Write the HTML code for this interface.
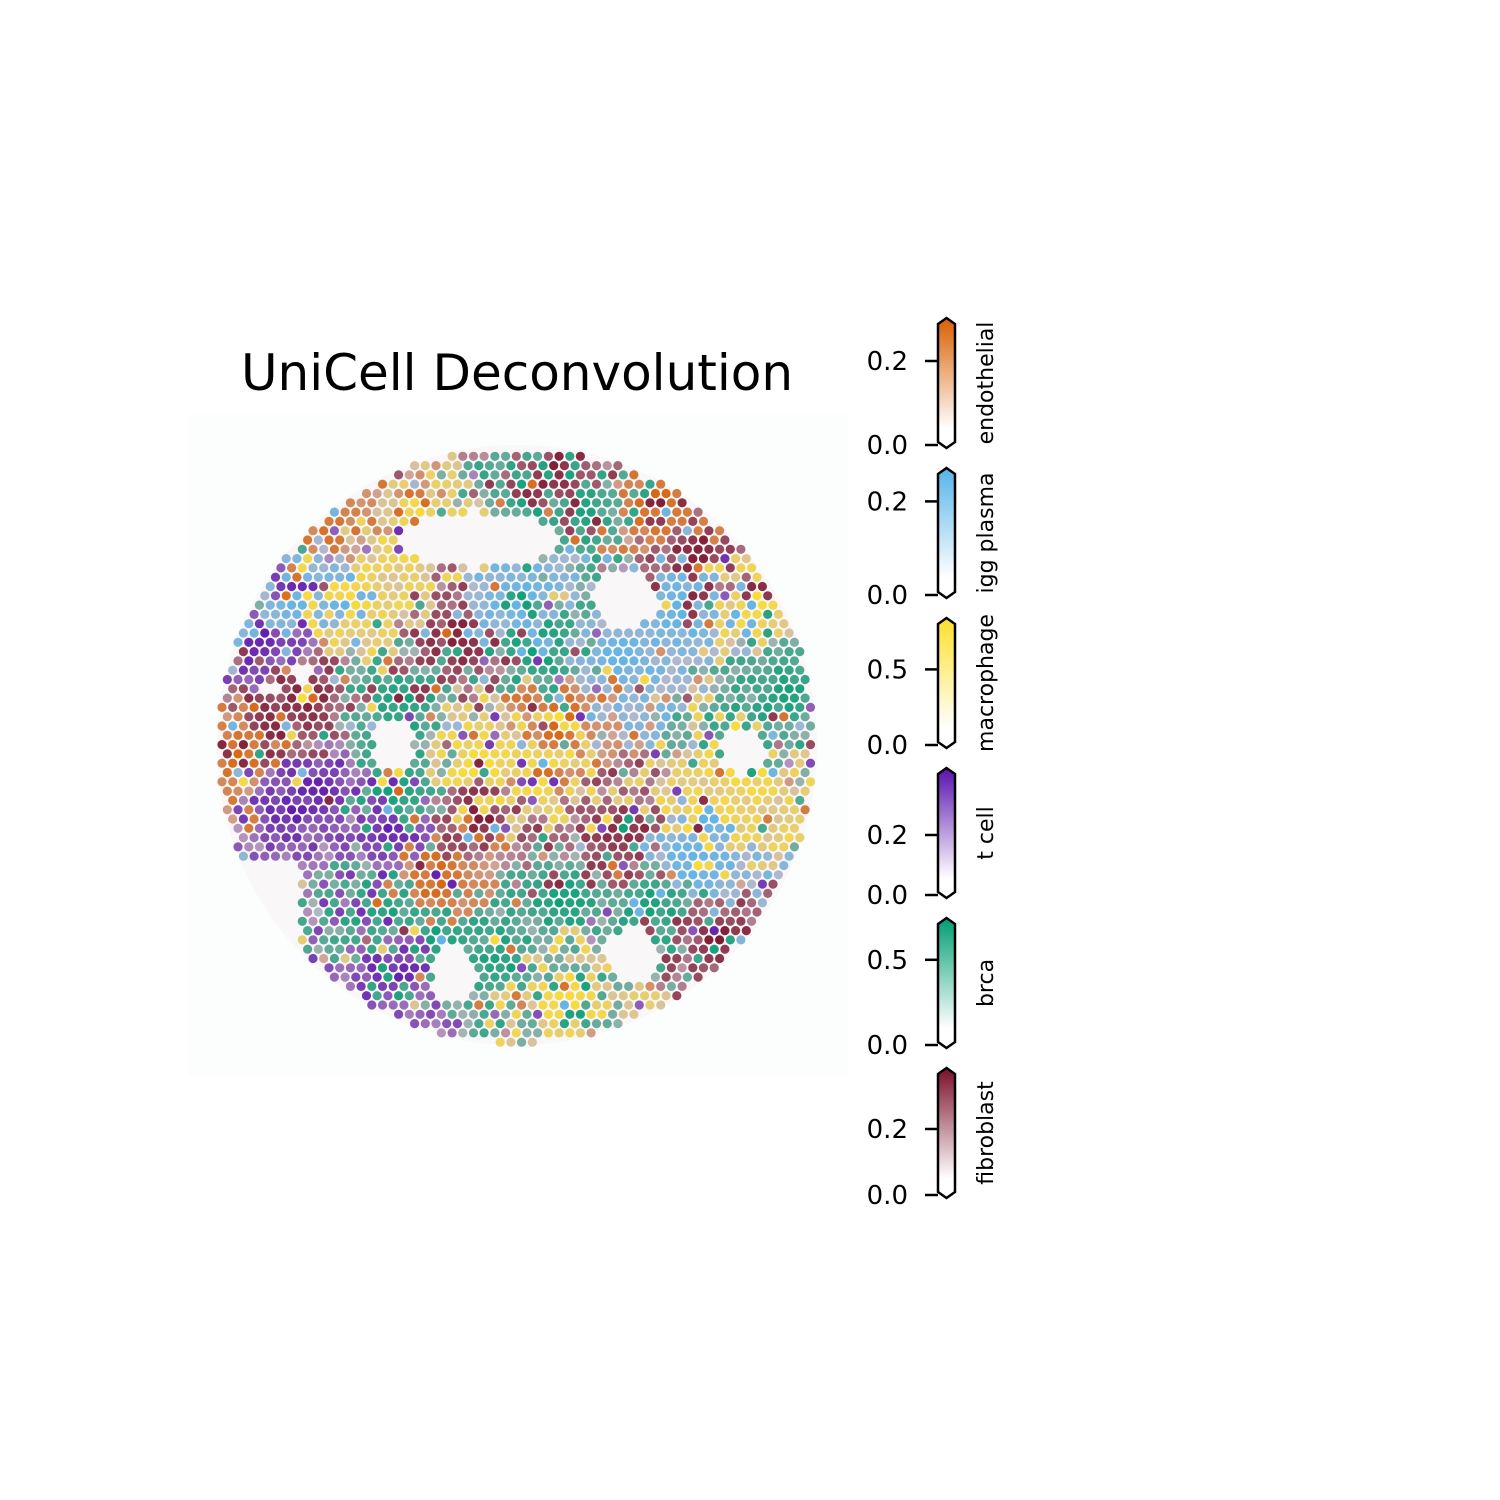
<!DOCTYPE html>
<html><head><meta charset="utf-8"><style>
body{margin:0;background:#fff;}
svg{display:block;font-family:"DejaVu Sans","Liberation Sans",sans-serif;}
</style></head><body>
<svg id="chart" width="1500" height="1500" viewBox="0 0 1500 1500" xmlns="http://www.w3.org/2000/svg">
<rect width="1500" height="1500" fill="#ffffff"/>
<text x="517" y="390" font-size="50" text-anchor="middle" fill="#000">UniCell Deconvolution</text>
<rect x="188" y="415" width="660" height="660" fill="#fcfdfd"/>
<circle cx="517" cy="745" r="300" fill="#f3ecec" opacity="0.35"/>
<g id="spots"></g>
<g id="cbars"></g>
</svg>
<script>
const cellTypes=["endothelial","igg plasma","macrophage","t cell","brca","fibroblast"];
const typeColors=["#d95f02","#56b4e9","#fde02a","#5a12ad","#009e73","#7a0f2a"];
const cbarTicks=[["0.2","0.0"],["0.2","0.0"],["0.5","0.0"],["0.2","0.0"],["0.5","0.0"],["0.2","0.0"]];
const cbarTickFrac=[[0.7,0],[0.78,0],[0.63,0],[0.5,0],[0.71,0],[0.55,0]];
// cluster centres (image coords) and dominant cell type index
const clusterX=[290,320,262,390,392, 380,560,650,790,740,540,392,440,500,580,530,400, 710,540,480,420,760,570,745,350, 300,270,700,560,480,720, 240,440,660,560, 300,680,620,520, 460,620,330,700];
const clusterY=[810,790,640,975,830, 905,900,905,690,740,650,790,940,960,510,490,700, 820,770,760,530,600,1000,770,600, 700,720,550,470,820,940, 750,880,500,720, 600,610,660,600, 640,830,500,860];
const clusterType=[3,3,3,3,3, 4,4,4,4,4,4,4,4,4,4,4,4, 2,2,2,2,2,2,2,2, 5,5,5,5,5,5, 0,0,0,0, 1,1,1,1, 5,5,0,1];
// tissue holes (no spots): centre x, centre y, radius x, radius y
const holeX=[475,625,455,632,392,742,300,270];
const holeY=[540,598,975,955,745,752,672,690];
const holeRX=[80,32,22,28,20,22,10,8];
const holeRY=[28,30,30,26,28,22,10,8];
const NS="http://www.w3.org/2000/svg";
function hash(i,j){let h=(i*73856093)^(j*19349663);h=(h^(h>>>13))*1274126177;h=h^(h>>>16);return ((h>>>0)%1000)/1000;}
function mix(c,t){const r=parseInt(c.slice(1,3),16),g=parseInt(c.slice(3,5),16),b=parseInt(c.slice(5,7),16);
const m=[205,185,195];return `rgb(${Math.round(r+(m[0]-r)*t)},${Math.round(g+(m[1]-g)*t)},${Math.round(b+(m[2]-b)*t)})`;}
const spots=document.getElementById('spots');
const cx=517,cy=745,R=298,dx=10.7,dy=9.3;
for(let j=0;j<66;j++){
 const y=447+j*dy;
 for(let i=-2;i<60;i++){
  const x=222+i*dx+(j%2?dx/2:0);
  const d=Math.hypot(x-cx,y-cy);
  if(d>R) continue;
  if(x<300&&y>860) continue;
  let inHole=false;
  for(let k=0;k<holeX.length;k++){const u=(x-holeX[k])/holeRX[k],v=(y-holeY[k])/holeRY[k];if(u*u+v*v<1)inHole=true;}
  if(inHole) continue;
  let best=0,bd=1e9,second=0,sd=1e9;
  for(let k=0;k<clusterX.length;k++){const e=Math.hypot(x-clusterX[k],y-clusterY[k]);
   if(e<bd){sd=bd;second=best;bd=e;best=k;}else if(e<sd){sd=e;second=k;}}
  const h=hash(i,j);
  let t=clusterType[best];
  if(h>0.62) t=clusterType[second];
  if(h>0.88) t=Math.floor(hash(j+7,i+3)*6);
  const wash=Math.min(0.8,0.15+bd/70)*(0.3+0.7*hash(j,i));
  const c=document.createElementNS(NS,'circle');
  
  
  c.setAttribute('cx',x.toFixed(1));c.setAttribute('cy',y.toFixed(1));c.setAttribute('r','4.6');
  c.setAttribute('fill',mix(typeColors[t],wash));
  spots.appendChild(c);
 }
}
const cb=document.getElementById('cbars');
const x0=938,w=17,h=130;
cellTypes.forEach((name,k)=>{
 const top=318+k*150,bot=top+h;
 const gid='g'+k;
 const gr=document.createElementNS(NS,'linearGradient');
 gr.setAttribute('id',gid);gr.setAttribute('x1','0');gr.setAttribute('y1','1');gr.setAttribute('x2','0');gr.setAttribute('y2','0');
 gr.innerHTML=`<stop offset="0" stop-color="#fff"/><stop offset="0.15" stop-color="#fff"/><stop offset="1" stop-color="${typeColors[k]}"/>`;
 cb.appendChild(gr);
 const p=document.createElementNS(NS,'path');
 
 
 p.setAttribute('d',`M${x0},${top+6} L${x0+w/2},${top} L${x0+w},${top+6} L${x0+w},${bot-6} L${x0+w/2},${bot} L${x0},${bot-6} Z`);
 p.setAttribute('fill',`url(#${gid})`);p.setAttribute('stroke','#000');p.setAttribute('stroke-width','2.5');
 cb.appendChild(p);
 cbarTicks[k].forEach((lab,m)=>{
  const ty=(bot-3)-cbarTickFrac[k][m]*(h-10);
  const l=document.createElementNS(NS,'line');
  
  
  l.setAttribute('x1',x0-13);l.setAttribute('x2',x0);l.setAttribute('y1',ty);l.setAttribute('y2',ty);
  l.setAttribute('stroke','#000');l.setAttribute('stroke-width','2.5');cb.appendChild(l);
  const t=document.createElementNS(NS,'text');
  
  
  t.setAttribute('x',908);t.setAttribute('y',ty+9);t.setAttribute('font-size','26');t.setAttribute('text-anchor','end');
  t.textContent=lab;cb.appendChild(t);
 });
 const lt=document.createElementNS(NS,'text');
 
 
 const ly=top+h/2;
 lt.setAttribute('transform',`translate(993,${ly}) rotate(-90)`);
 lt.setAttribute('font-size','22');lt.setAttribute('text-anchor','middle');
 lt.textContent=name;cb.appendChild(lt);
});
</script>
</body></html>
